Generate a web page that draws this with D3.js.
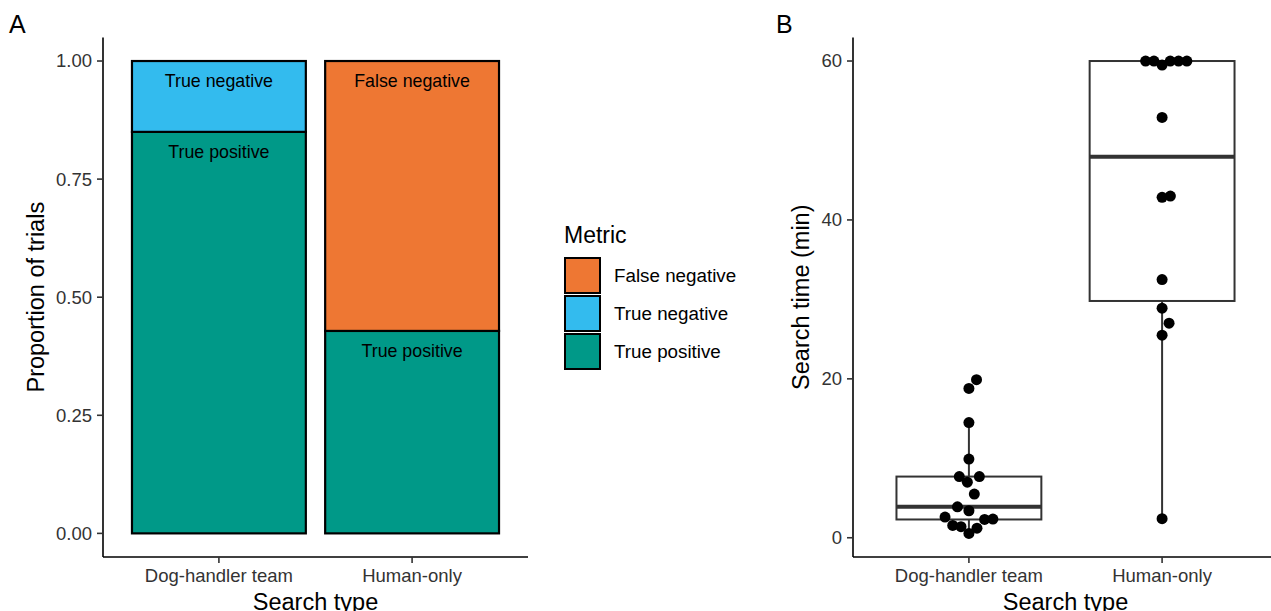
<!DOCTYPE html>
<html>
<head>
<meta charset="utf-8">
<script src="https://cdn.jsdelivr.net/npm/d3@7"></script>
<style>
  body { margin: 0; background: #fff; }
  svg { display: block; font-family: "Liberation Sans", Arial, sans-serif; }
  .tick-label { fill: #333; font-size: 18.5px; }
  .axis-title { fill: #000; font-size: 23.5px; }
</style>
</head>
<body>
<svg id="chart" width="1271" height="611"></svg>
<script>
// ---- data ----
var categories = ["Dog-handler team", "Human-only"];
var metrics = ["False negative", "True negative", "True positive"];
var metricColors = ["#EE7733", "#33BBEE", "#009988"];

// proportion of trials per search type
var propTruePositive = [0.85, 0.4286];
var propTrueNegative = [0.15, 0];
var propFalseNegative = [0, 0.5714];
var propTicks = [0, 0.25, 0.5, 0.75, 1];

// search times (min)
var dogTimes = [19.9, 18.8, 14.5, 9.9, 7.7, 7.7, 7.0, 5.5, 3.9, 3.4, 2.6, 2.35, 2.3, 1.55, 1.4, 1.2, 0.55];
var humanTimes = [60, 60, 60, 60, 60, 59.5, 52.9, 43.0, 42.85, 32.5, 28.9, 27.0, 25.5, 2.4];
var timeTicks = [0, 20, 40, 60];

var svg = d3.select("#chart");
var plotTop = 37.4, plotBottom = 557;

function expand(ext, f) {
  var pad = (ext[1] - ext[0]) * f;
  return [ext[0] - pad, ext[1] + pad];
}

function drawYAxis(g, x0, y, ticks, fmt, title) {
  g.append("line").attr("x1", x0).attr("x2", x0).attr("y1", plotTop).attr("y2", plotBottom)
    .attr("stroke", "#000").attr("stroke-width", 1.6);
  var tg = g.append("g");
  ticks.forEach(function(t) {
    tg.append("line").attr("x1", x0 - 6).attr("x2", x0).attr("y1", y(t)).attr("y2", y(t))
      .attr("stroke", "#333").attr("stroke-width", 1.6);
    tg.append("text").attr("class", "tick-label").attr("x", x0 - 11).attr("y", y(t))
      .attr("dy", "0.35em").attr("text-anchor", "end").text(fmt(t));
  });
  var bb = tg.node().getBBox();
  g.append("text").attr("class", "axis-title")
    .attr("transform", "translate(" + (bb.x - 12) + "," + ((plotTop + plotBottom) / 2) + ") rotate(-90)")
    .attr("text-anchor", "middle").text(title);
}

function drawXAxis(g, x, range, title) {
  g.append("line").attr("x1", range[0]).attr("x2", range[1]).attr("y1", plotBottom).attr("y2", plotBottom)
    .attr("stroke", "#000").attr("stroke-width", 1.6);
  categories.forEach(function(c) {
    g.append("line").attr("x1", x(c)).attr("x2", x(c)).attr("y1", plotBottom).attr("y2", plotBottom + 6)
      .attr("stroke", "#333").attr("stroke-width", 1.6);
    g.append("text").attr("class", "tick-label").attr("x", x(c)).attr("y", plotBottom + 25)
      .attr("text-anchor", "middle").text(c);
  });
  g.append("text").attr("class", "axis-title").attr("x", (range[0] + range[1]) / 2)
    .attr("y", plotBottom + 53).attr("text-anchor", "middle").text(title);
}

//==========
// Panel A
//==========
var gA = svg.append("g");
var xA = d3.scalePoint().domain(categories).range([103, 528]).padding(0.6);
var yA = d3.scaleLinear().domain(expand([0, 1], 0.05)).range([plotBottom, plotTop]);
var color = d3.scaleOrdinal().domain(metrics).range(metricColors);

var rows = categories.map(function(c, i) {
  return { cat: c, "True positive": propTruePositive[i], "True negative": propTrueNegative[i], "False negative": propFalseNegative[i] };
});
var stack = d3.stack().keys(["True positive", "True negative", "False negative"])(rows);
var barW = xA.step() * 0.9;

stack.forEach(function(layer) {
  layer.forEach(function(d) {
    if (d[1] - d[0] <= 0) return;
    gA.append("rect")
      .attr("x", xA(d.data.cat) - barW / 2)
      .attr("y", yA(d[1]))
      .attr("width", barW)
      .attr("height", yA(d[0]) - yA(d[1]))
      .attr("fill", color(layer.key))
      .attr("stroke", "#000").attr("stroke-width", 2.2);
  });
});
stack.forEach(function(layer) {
  layer.forEach(function(d) {
    if (d[1] - d[0] <= 0) return;
    gA.append("text")
      .attr("x", xA(d.data.cat)).attr("y", yA(d[1]) + 26)
      .attr("text-anchor", "middle").attr("font-size", "17.8px").attr("fill", "#000")
      .text(layer.key);
  });
});

drawYAxis(gA, 103, yA, propTicks, d3.format(".2f"), "Proportion of trials");
drawXAxis(gA, xA, [103, 528], "Search type");
svg.append("text").attr("x", 9).attr("y", 33).attr("font-size", "25px").text("A");

// legend
var lg = svg.append("g");
lg.append("text").attr("x", 564).attr("y", 243).attr("font-size", "23px").text("Metric");
metrics.forEach(function(m, i) {
  lg.append("rect").attr("x", 565).attr("y", 258 + i * 38).attr("width", 35).attr("height", 35)
    .attr("fill", color(m)).attr("stroke", "#000").attr("stroke-width", 2);
  lg.append("text").attr("x", 614).attr("y", 275.5 + i * 38).attr("dy", "0.35em")
    .attr("font-size", "18.8px").attr("fill", "#000").text(m);
});

//==========
// Panel B
//==========
var gB = svg.append("g");
var xB = d3.scalePoint().domain(categories).range([853, 1278]).padding(0.6);
var allTimes = dogTimes.concat(humanTimes);
var yB = d3.scaleLinear().domain(expand(d3.extent(allTimes), 0.05)).range([plotBottom, plotTop]);
var boxW = xB.step() * 0.75;
var groups = [dogTimes, humanTimes];

groups.forEach(function(vals, i) {
  var s = vals.slice().sort(d3.ascending);
  var q1 = d3.quantile(s, 0.25), med = d3.quantile(s, 0.5), q3 = d3.quantile(s, 0.75);
  var iqr = q3 - q1;
  var lo = d3.min(s.filter(function(v) { return v >= q1 - 1.5 * iqr; }));
  var hi = d3.max(s.filter(function(v) { return v <= q3 + 1.5 * iqr; }));
  var cx = xB(categories[i]);
  gB.append("line").attr("x1", cx).attr("x2", cx).attr("y1", yB(q3)).attr("y2", yB(hi))
    .attr("stroke", "#333").attr("stroke-width", 2);
  gB.append("line").attr("x1", cx).attr("x2", cx).attr("y1", yB(q1)).attr("y2", yB(lo))
    .attr("stroke", "#333").attr("stroke-width", 2);
  gB.append("rect").attr("x", cx - boxW / 2).attr("y", yB(q3)).attr("width", boxW)
    .attr("height", yB(q1) - yB(q3)).attr("fill", "#fff").attr("stroke", "#333").attr("stroke-width", 2);
  gB.append("line").attr("x1", cx - boxW / 2).attr("x2", cx + boxW / 2).attr("y1", yB(med)).attr("y2", yB(med))
    .attr("stroke", "#333").attr("stroke-width", 4);
});

// beeswarm placement, ascending priority
function swarm(vals, rx, ry) {
  var pts = vals.map(function(v) { return { v: v, y: yB(v), dx: 0 }; })
    .sort(function(a, b) { return a.v - b.v; });
  var placed = [];
  pts.forEach(function(p) {
    var near = placed.map(function(q) {
      var dy = Math.abs(q.y - p.y);
      return dy < ry ? { x: q.dx, d: rx * Math.sqrt(1 - (dy / ry) * (dy / ry)) } : null;
    }).filter(Boolean);
    var cands = [0];
    near.forEach(function(n) { cands.push(n.x + n.d, n.x - n.d); });
    cands.sort(function(a, b) { return Math.abs(a) - Math.abs(b) || b - a; });
    for (var k = 0; k < cands.length; k++) {
      var c = cands[k];
      var ok = near.every(function(n) { return Math.abs(c - n.x) >= n.d - 1e-6; });
      if (ok) { p.dx = c; break; }
    }
    placed.push(p);
  });
  return pts;
}

groups.forEach(function(vals, i) {
  var cx = xB(categories[i]);
  gB.selectAll(null).data(swarm(vals, 8.3, 22)).enter().append("circle")
    .attr("cx", function(d) { return cx + d.dx; })
    .attr("cy", function(d) { return d.y; })
    .attr("r", 5.5).attr("fill", "#000");
});

drawYAxis(gB, 853, yB, timeTicks, d3.format("d"), "Search time (min)");
drawXAxis(gB, xB, [853, 1278], "Search type");
svg.append("text").attr("x", 776).attr("y", 33).attr("font-size", "25px").text("B");
</script>
</body>
</html>
